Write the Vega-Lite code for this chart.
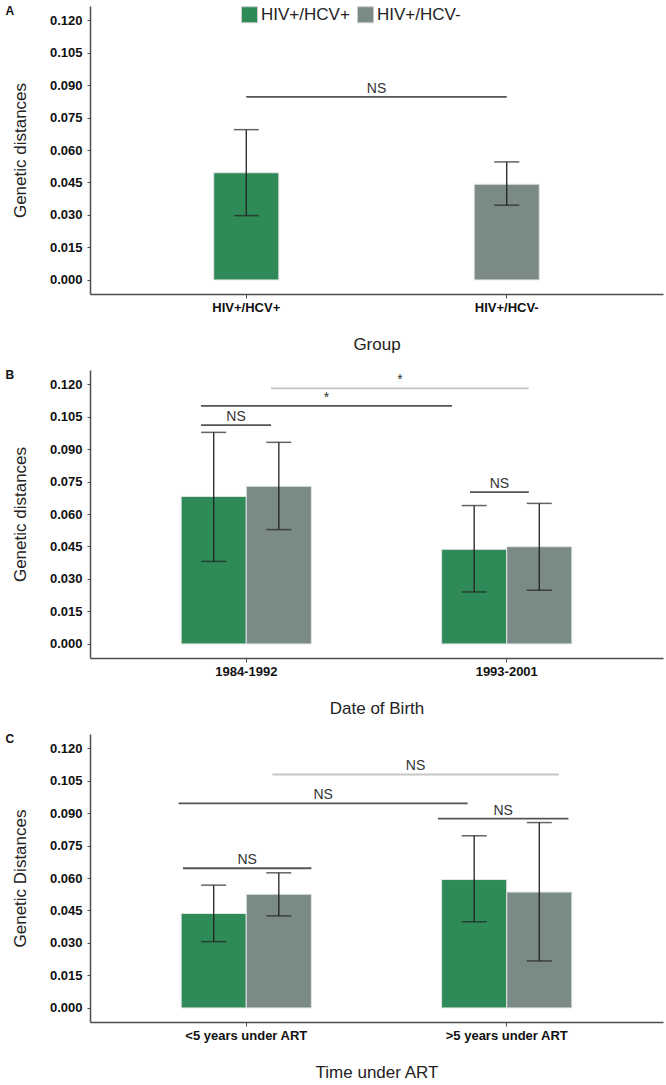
{
  "$schema": "https://vega.github.io/schema/vega-lite/v6.json",
  "background": "white",
  "padding": {"left": 5, "top": 5, "right": 2, "bottom": 2},
  "bounds": "flush",
  "spacing": 76,
  "datasets": {
    "bars": [
      {"panel": "A", "cat": "HIV+/HCV+", "grp": "HIV+/HCV+", "mean": 0.0495, "lo": 0.0297, "hi": 0.0694},
      {"panel": "A", "cat": "HIV+/HCV-", "grp": "HIV+/HCV-", "mean": 0.0442, "lo": 0.0345, "hi": 0.0545},
      {"panel": "B", "cat": "1984-1992", "grp": "HIV+/HCV+", "mean": 0.0681, "lo": 0.0381, "hi": 0.0977},
      {"panel": "B", "cat": "1984-1992", "grp": "HIV+/HCV-", "mean": 0.0728, "lo": 0.0528, "hi": 0.0931},
      {"panel": "B", "cat": "1993-2001", "grp": "HIV+/HCV+", "mean": 0.0437, "lo": 0.0240, "hi": 0.0639},
      {"panel": "B", "cat": "1993-2001", "grp": "HIV+/HCV-", "mean": 0.0449, "lo": 0.0248, "hi": 0.0649},
      {"panel": "C", "cat": "<5 years under ART", "grp": "HIV+/HCV+", "mean": 0.0436, "lo": 0.0306, "hi": 0.0567},
      {"panel": "C", "cat": "<5 years under ART", "grp": "HIV+/HCV-", "mean": 0.0525, "lo": 0.0425, "hi": 0.0624},
      {"panel": "C", "cat": ">5 years under ART", "grp": "HIV+/HCV+", "mean": 0.0593, "lo": 0.0398, "hi": 0.0795},
      {"panel": "C", "cat": ">5 years under ART", "grp": "HIV+/HCV-", "mean": 0.0535, "lo": 0.0217, "hi": 0.0856}
    ],
    "sig": [
      {"panel": "A", "id": "a1", "label": "NS", "tone": "dark", "x": 1.0, "y": 0.0845},
      {"panel": "A", "id": "a1", "label": "NS", "tone": "dark", "x": 2.0, "y": 0.0845},
      {"panel": "B", "id": "b1", "label": "*", "tone": "light", "x": 1.095, "y": 0.118},
      {"panel": "B", "id": "b1", "label": "*", "tone": "light", "x": 2.085, "y": 0.118},
      {"panel": "B", "id": "b2", "label": "*", "tone": "dark", "x": 0.826, "y": 0.1099},
      {"panel": "B", "id": "b2", "label": "*", "tone": "dark", "x": 1.79, "y": 0.1099},
      {"panel": "B", "id": "b3", "label": "NS", "tone": "dark", "x": 0.826, "y": 0.101},
      {"panel": "B", "id": "b3", "label": "NS", "tone": "dark", "x": 1.095, "y": 0.101},
      {"panel": "B", "id": "b4", "label": "NS", "tone": "dark", "x": 1.859, "y": 0.0701},
      {"panel": "B", "id": "b4", "label": "NS", "tone": "dark", "x": 2.085, "y": 0.0701},
      {"panel": "C", "id": "c1", "label": "NS", "tone": "light", "x": 1.1, "y": 0.1078},
      {"panel": "C", "id": "c1", "label": "NS", "tone": "light", "x": 2.2, "y": 0.1078},
      {"panel": "C", "id": "c2", "label": "NS", "tone": "dark", "x": 0.74, "y": 0.0945},
      {"panel": "C", "id": "c2", "label": "NS", "tone": "dark", "x": 1.85, "y": 0.0945},
      {"panel": "C", "id": "c3", "label": "NS", "tone": "dark", "x": 1.736, "y": 0.0874},
      {"panel": "C", "id": "c3", "label": "NS", "tone": "dark", "x": 2.237, "y": 0.0874},
      {"panel": "C", "id": "c4", "label": "NS", "tone": "dark", "x": 0.757, "y": 0.0645},
      {"panel": "C", "id": "c4", "label": "NS", "tone": "dark", "x": 1.25, "y": 0.0645}
    ]
  },
  "resolve": {"scale": {"color": "independent"}},
  "vconcat": [
    {
      "width": 573,
      "height": 288,
      "title": {"text": "A"},
      "layer": [
        {
          "data": {"name": "bars"},
          "transform": [{"filter": "datum.panel == 'A'"}],
          "encoding": {
            "x": {"field": "cat", "type": "nominal", "sort": null, "title": "Group",
                  "scale": {"paddingInner": 0.75, "paddingOuter": 0.475}},
            "y": {"field": "mean", "type": "quantitative", "title": "Genetic distances",
                  "axis": {"values": [0, 0.015, 0.03, 0.045, 0.06, 0.075, 0.09, 0.105, 0.12], "format": ".3f"},
                  "scale": {"domain": [-0.0065, 0.1265], "nice": false, "zero": false}}
          },
          "layer": [
            {"mark": {"type": "bar", "stroke": "#e4e4e4", "strokeWidth": 1},
             "encoding": {"color": {"field": "grp", "type": "nominal", "title": null,
               "scale": {"domain": ["HIV+/HCV+", "HIV+/HCV-"], "range": ["#2e8a57", "#7a8a87"]},
               "legend": {"orient": "none", "legendX": 151, "legendY": 0, "direction": "horizontal"}}}},
            {"mark": {"type": "rule", "color": "#222", "strokeWidth": 1.3},
             "encoding": {"y": {"field": "lo", "type": "quantitative"}, "y2": {"field": "hi"}}},
            {"mark": {"type": "tick", "color": "#222", "size": 25, "thickness": 1.5},
             "encoding": {"y": {"field": "lo", "type": "quantitative"}}},
            {"mark": {"type": "tick", "color": "#222", "size": 25, "thickness": 1.5},
             "encoding": {"y": {"field": "hi", "type": "quantitative"}}}
          ]
        },
        {
          "data": {"name": "sig"},
          "transform": [{"filter": "datum.panel == 'A'"}],
          "encoding": {
            "y": {"field": "y", "type": "quantitative", "title": "Genetic distances",
                  "axis": {"values": [0, 0.015, 0.03, 0.045, 0.06, 0.075, 0.09, 0.105, 0.12], "format": ".3f"}}
          },
          "layer": [
            {"mark": {"type": "line", "strokeWidth": 1.8},
             "encoding": {"x": {"field": "x", "type": "quantitative", "axis": null, "scale": {"domain": [0.4, 2.6]}},
               "detail": {"field": "id"},
               "color": {"condition": {"test": "datum.tone == 'light'", "value": "#c6c6c6"}, "value": "#555555"}}},
            {"mark": {"type": "text", "baseline": "alphabetic", "dy": -4, "fontSize": 14, "font": "Liberation Sans"},
             "encoding": {"x": {"aggregate": "mean", "field": "x", "type": "quantitative", "axis": null, "scale": {"domain": [0.4, 2.6]}},
               "y": {"aggregate": "mean", "field": "y", "type": "quantitative", "title": "Genetic distances",
                     "axis": {"values": [0, 0.015, 0.03, 0.045, 0.06, 0.075, 0.09, 0.105, 0.12], "format": ".3f"}},
               "detail": {"field": "id"},
               "text": {"field": "label"},
               "color": {"condition": {"test": "datum.tone == 'light'", "value": "#aaaaaa"}, "value": "#333333"}}}
          ]
        }
      ],
      "resolve": {"scale": {"x": "independent"}}
    },
    {
      "width": 573,
      "height": 288,
      "title": {"text": "B"},
      "layer": [
        {
          "data": {"name": "bars"},
          "transform": [{"filter": "datum.panel == 'B'"}],
          "encoding": {
            "x": {"field": "cat", "type": "nominal", "sort": null, "title": "Date of Birth",
                  "scale": {"paddingInner": 0.5, "paddingOuter": 0.35}},
            "xOffset": {"field": "grp", "sort": ["HIV+/HCV+", "HIV+/HCV-"]},
            "y": {"field": "mean", "type": "quantitative", "title": "Genetic distances",
                  "axis": {"values": [0, 0.015, 0.03, 0.045, 0.06, 0.075, 0.09, 0.105, 0.12], "format": ".3f"},
                  "scale": {"domain": [-0.0065, 0.1265], "nice": false, "zero": false}}
          },
          "layer": [
            {"mark": {"type": "bar", "stroke": "#e4e4e4", "strokeWidth": 1},
             "encoding": {"color": {"field": "grp", "type": "nominal", "legend": null,
               "scale": {"domain": ["HIV+/HCV+", "HIV+/HCV-"], "range": ["#2e8a57", "#7a8a87"]}}}},
            {"mark": {"type": "rule", "color": "#222", "strokeWidth": 1.3},
             "encoding": {"y": {"field": "lo", "type": "quantitative"}, "y2": {"field": "hi"}}},
            {"mark": {"type": "tick", "color": "#222", "size": 25, "thickness": 1.5},
             "encoding": {"y": {"field": "lo", "type": "quantitative"}}},
            {"mark": {"type": "tick", "color": "#222", "size": 25, "thickness": 1.5},
             "encoding": {"y": {"field": "hi", "type": "quantitative"}}}
          ]
        },
        {
          "data": {"name": "sig"},
          "transform": [{"filter": "datum.panel == 'B'"}],
          "encoding": {
            "y": {"field": "y", "type": "quantitative", "title": "Genetic distances",
                  "axis": {"values": [0, 0.015, 0.03, 0.045, 0.06, 0.075, 0.09, 0.105, 0.12], "format": ".3f"}}
          },
          "layer": [
            {"mark": {"type": "line", "strokeWidth": 1.8},
             "encoding": {"x": {"field": "x", "type": "quantitative", "axis": null, "scale": {"domain": [0.4, 2.6]}},
               "detail": {"field": "id"},
               "color": {"condition": {"test": "datum.tone == 'light'", "value": "#c6c6c6"}, "value": "#555555"}}},
            {"mark": {"type": "text", "baseline": "alphabetic", "dy": -4, "fontSize": 14, "font": "Liberation Sans"},
             "encoding": {"x": {"aggregate": "mean", "field": "x", "type": "quantitative", "axis": null, "scale": {"domain": [0.4, 2.6]}},
               "y": {"aggregate": "mean", "field": "y", "type": "quantitative", "title": "Genetic distances",
                     "axis": {"values": [0, 0.015, 0.03, 0.045, 0.06, 0.075, 0.09, 0.105, 0.12], "format": ".3f"}},
               "detail": {"field": "id"},
               "text": {"field": "label"},
               "color": {"condition": {"test": "datum.tone == 'light'", "value": "#aaaaaa"}, "value": "#333333"}}}
          ]
        }
      ],
      "resolve": {"scale": {"x": "independent"}}
    },
    {
      "width": 573,
      "height": 288,
      "title": {"text": "C"},
      "layer": [
        {
          "data": {"name": "bars"},
          "transform": [{"filter": "datum.panel == 'C'"}],
          "encoding": {
            "x": {"field": "cat", "type": "nominal", "sort": null, "title": "Time under ART",
                  "scale": {"paddingInner": 0.5, "paddingOuter": 0.35}},
            "xOffset": {"field": "grp", "sort": ["HIV+/HCV+", "HIV+/HCV-"]},
            "y": {"field": "mean", "type": "quantitative", "title": "Genetic Distances",
                  "axis": {"values": [0, 0.015, 0.03, 0.045, 0.06, 0.075, 0.09, 0.105, 0.12], "format": ".3f"},
                  "scale": {"domain": [-0.0065, 0.1265], "nice": false, "zero": false}}
          },
          "layer": [
            {"mark": {"type": "bar", "stroke": "#e4e4e4", "strokeWidth": 1},
             "encoding": {"color": {"field": "grp", "type": "nominal", "legend": null,
               "scale": {"domain": ["HIV+/HCV+", "HIV+/HCV-"], "range": ["#2e8a57", "#7a8a87"]}}}},
            {"mark": {"type": "rule", "color": "#222", "strokeWidth": 1.3},
             "encoding": {"y": {"field": "lo", "type": "quantitative"}, "y2": {"field": "hi"}}},
            {"mark": {"type": "tick", "color": "#222", "size": 25, "thickness": 1.5},
             "encoding": {"y": {"field": "lo", "type": "quantitative"}}},
            {"mark": {"type": "tick", "color": "#222", "size": 25, "thickness": 1.5},
             "encoding": {"y": {"field": "hi", "type": "quantitative"}}}
          ]
        },
        {
          "data": {"name": "sig"},
          "transform": [{"filter": "datum.panel == 'C'"}],
          "encoding": {
            "y": {"field": "y", "type": "quantitative", "title": "Genetic Distances",
                  "axis": {"values": [0, 0.015, 0.03, 0.045, 0.06, 0.075, 0.09, 0.105, 0.12], "format": ".3f"}}
          },
          "layer": [
            {"mark": {"type": "line", "strokeWidth": 1.8},
             "encoding": {"x": {"field": "x", "type": "quantitative", "axis": null, "scale": {"domain": [0.4, 2.6]}},
               "detail": {"field": "id"},
               "color": {"condition": {"test": "datum.tone == 'light'", "value": "#c6c6c6"}, "value": "#555555"}}},
            {"mark": {"type": "text", "baseline": "alphabetic", "dy": -4, "fontSize": 14, "font": "Liberation Sans"},
             "encoding": {"x": {"aggregate": "mean", "field": "x", "type": "quantitative", "axis": null, "scale": {"domain": [0.4, 2.6]}},
               "y": {"aggregate": "mean", "field": "y", "type": "quantitative", "title": "Genetic Distances",
                     "axis": {"values": [0, 0.015, 0.03, 0.045, 0.06, 0.075, 0.09, 0.105, 0.12], "format": ".3f"}},
               "detail": {"field": "id"},
               "text": {"field": "label"},
               "color": {"condition": {"test": "datum.tone == 'light'", "value": "#aaaaaa"}, "value": "#333333"}}}
          ]
        }
      ],
      "resolve": {"scale": {"x": "independent"}}
    }
  ],
  "config": {
    "view": {"stroke": null},
    "font": "Liberation Sans",
    "title": {"anchor": "start", "frame": "bounds", "offset": -12, "dx": -6, "fontSize": 12, "fontWeight": "bold", "color": "#111", "font": "Liberation Sans"},
    "axis": {"grid": false, "domainColor": "#4d4d4d", "domainWidth": 1.5, "tickColor": "#4d4d4d",
             "labelFont": "Liberation Sans", "labelFontWeight": "bold", "labelFontSize": 13, "labelColor": "#111",
             "titleFont": "Liberation Sans", "titleFontWeight": "normal", "titleFontSize": 17, "titleColor": "#222"},
    "axisX": {"labelAngle": 0, "tickSize": 4, "labelPadding": 3, "titlePadding": 22},
    "axisY": {"tickSize": 3, "labelPadding": 5, "titlePadding": 20},
    "legend": {"symbolType": "square", "symbolSize": 256, "symbolStrokeColor": "#cccccc", "symbolStrokeWidth": 1,
               "labelFontSize": 17, "labelColor": "#222", "labelFont": "Liberation Sans", "labelOffset": 3,
               "columnPadding": 5, "symbolOpacity": 1}
  }
}
